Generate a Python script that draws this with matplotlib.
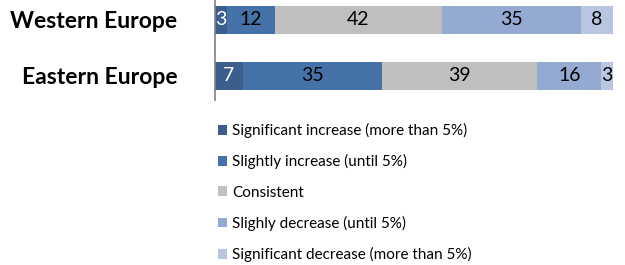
import numpy as np
import matplotlib.pyplot as plt
from matplotlib.patches import Patch

plt.rcParams['font.family'] = ['Lato', 'DejaVu Sans']

regions = ['Eastern Europe', 'Western Europe']
sig_inc = [7, 3]
slight_inc = [35, 12]
consistent = [39, 42]
slight_dec = [16, 35]
sig_dec = [3, 8]

series = [sig_inc, slight_inc, consistent, slight_dec, sig_dec]
names = ['Significant increase (more than 5%)', 'Slightly increase (until 5%)',
         'Consistent', 'Slighly decrease (until 5%)', 'Significant decrease (more than 5%)']
colors = ['#3c5e8d', '#4572a9', '#bfbfbf', '#95aad2', '#b9c6e2']
txt_colors = ['white', 'black', 'black', 'black', 'black']

fig = plt.figure(figsize=(6.25, 2.65), dpi=100)
ax = fig.add_axes([215 / 625, 165 / 265, 398 / 625, 100 / 265])

y = np.arange(len(regions))
left = np.zeros(len(regions))
for vals, c, tc in zip(series, colors, txt_colors):
    vals = np.array(vals)
    ax.barh(y, vals, left=left, height=0.5, color=c, edgecolor='none')
    for yi, l, v in zip(y, left, vals):
        ax.text(l + v / 2, yi, str(v), ha='center', va='center',
                fontsize=14, color=tc)
    left += vals

ax.set_xlim(0, 100)
ax.set_ylim(-0.43, 1.357)
ax.set_yticks(y)
ax.set_yticklabels(regions, fontsize=16.5, fontweight='bold')
ax.tick_params(axis='y', length=0, pad=27)
ax.set_xticks([])
for s in ['top', 'right', 'bottom']:
    ax.spines[s].set_visible(False)
ax.spines['left'].set_color('#808080')
ax.spines['left'].set_linewidth(1.2)

handles = [Patch(facecolor=c, edgecolor='none') for c in colors]
fig.legend(handles, names, loc='upper left', bbox_to_anchor=(212 / 625, 1 - 117 / 265),
           frameon=False, fontsize=11, handlelength=0.6, handleheight=0.6,
           handletextpad=0.3, labelspacing=1.06, borderaxespad=0)

fig.savefig('out.png', dpi=100)
